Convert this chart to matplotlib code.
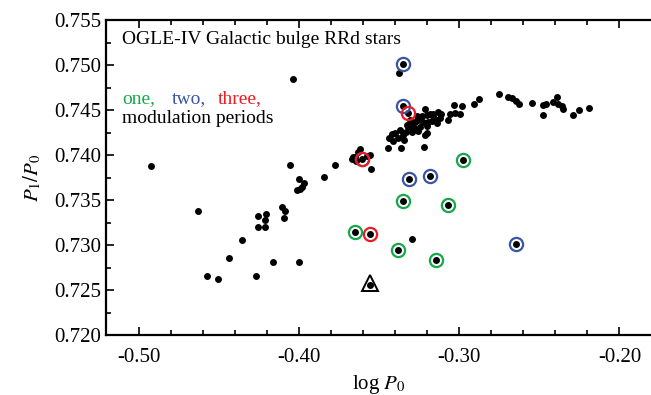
import numpy as np
import matplotlib
matplotlib.use('Agg')
import matplotlib.pyplot as plt
from matplotlib.ticker import MultipleLocator

plt.rcParams['font.family'] = ['Liberation Serif', 'DejaVu Serif']
plt.rcParams['mathtext.fontset'] = 'stix'

# all RRd stars (log P0, P1/P0)
logp_all = [-0.4924, -0.4629, -0.4571, -0.4502, -0.4435, -0.4356, -0.4265, -0.4252,
            -0.4206, -0.4211, -0.4254, -0.4212, -0.4159, -0.4105, -0.4084, -0.4095,
            -0.4057, -0.4036, -0.4002, -0.3966, -0.3980, -0.4013, -0.3993, -0.3997,
            -0.3840, -0.3774, -0.3551, -0.3292,
            -0.3618, -0.3660, -0.3556, -0.3670, -0.3651, -0.3576, -0.3605, -0.3643, -0.3630,
            -0.3376, -0.3353, -0.3350, -0.3318, -0.3213,
            -0.3445, -0.3364, -0.3217, -0.3420, -0.3400, -0.3369, -0.3348, -0.3331,
            -0.3317, -0.3296, -0.3275, -0.3254, -0.3233, -0.3202, -0.3181, -0.3160,
            -0.3139, -0.3129, -0.3284, -0.3305, -0.3243, -0.3223, -0.3264, -0.3327,
            -0.3212, -0.3202, -0.3381, -0.3294, -0.3257, -0.3194, -0.3160, -0.3139,
            -0.3119, -0.3412, -0.3438, -0.3341, -0.3200, -0.3169, -0.3113,
            -0.3067, -0.3056, -0.3030, -0.3025, -0.2994, -0.2980, -0.2905, -0.2874,
            -0.2753, -0.2693, -0.2672, -0.2645, -0.2624, -0.2547, -0.2474, -0.2457,
            -0.2474, -0.2416, -0.2391, -0.2381, -0.2360, -0.2350, -0.2291, -0.2252,
            -0.2188,
            -0.2977, -0.3353, -0.3071, -0.3647, -0.3384, -0.3147,
            -0.3310, -0.3184, -0.2646, -0.3554]
ratio_all = [0.7388, 0.7338, 0.7266, 0.7262, 0.7286, 0.7306, 0.7266, 0.7332,
             0.7334, 0.7328, 0.7320, 0.7320, 0.7281, 0.7342, 0.7338, 0.7330,
             0.7389, 0.7484, 0.7373, 0.7369, 0.7365, 0.7361, 0.7362, 0.7281,
             0.7376, 0.7389, 0.7384, 0.7307,
             0.7407, 0.7398, 0.7400, 0.7396, 0.7398, 0.7399, 0.7396, 0.7393, 0.7403,
             0.7491, 0.7501, 0.7454, 0.7447, 0.7451,
             0.7408, 0.7408, 0.7409, 0.7423, 0.7424, 0.7428, 0.7422, 0.7426,
             0.7431, 0.7435, 0.7437, 0.7439, 0.7443, 0.7444, 0.7446, 0.7443,
             0.7439, 0.7448, 0.7430, 0.7439, 0.7431, 0.7437, 0.7443, 0.7433,
             0.7422, 0.7424, 0.7419, 0.7426, 0.7427, 0.7437, 0.7446, 0.7436,
             0.7441, 0.7416, 0.7419, 0.7417, 0.7432, 0.7438, 0.7446,
             0.7439, 0.7446, 0.7456, 0.7447, 0.7446, 0.7454, 0.7457, 0.7462,
             0.7468, 0.7465, 0.7463, 0.7460, 0.7457, 0.7458, 0.7456, 0.7457,
             0.7444, 0.7459, 0.7464, 0.7457, 0.7454, 0.7451, 0.7444, 0.7450,
             0.7452,
             0.7394, 0.7349, 0.7344, 0.7314, 0.7294, 0.7283,
             0.7373, 0.7377, 0.7301, 0.7312]

# stars with one modulation period (green)
logp_one = [-0.2977, -0.3353, -0.3071, -0.3647, -0.3384, -0.3147]
ratio_one = [0.7394, 0.7349, 0.7344, 0.7314, 0.7294, 0.7283]
# two modulation periods (blue)
logp_two = [-0.3353, -0.3350, -0.3605, -0.3310, -0.3184, -0.2646]
ratio_two = [0.7501, 0.7454, 0.7396, 0.7373, 0.7377, 0.7301]
# three modulation periods (red)
logp_three = [-0.3318, -0.3605, -0.3554]
ratio_three = [0.7447, 0.7396, 0.7312]
# peculiar star (triangle)
logp_tri = [-0.3553]
ratio_tri = [0.7256]

green = '#16a84a'
blue = '#3a55a5'
red = '#ec1c24'

fig = plt.figure(figsize=(6.51, 3.95), dpi=100)
ax = fig.add_axes([106/651, 60/395, 545/651, 315/395])

ax.plot(logp_all, ratio_all, 'o', color='black', ms=5, mew=0, zorder=3)
ax.plot(logp_tri, ratio_tri, 'o', color='black', ms=5, mew=0, zorder=3)
ax.plot(logp_one, ratio_one, 'o', mfc='none', mec=green, ms=9.5, mew=1.6, zorder=4)
ax.plot(logp_two, ratio_two, 'o', mfc='none', mec=blue, ms=9.5, mew=1.6, zorder=4)
ax.plot(logp_three, ratio_three, 'o', mfc='none', mec=red, ms=9.5, mew=1.6, zorder=5)
ax.plot(logp_tri, [r + 0.0002 for r in ratio_tri], '^', mfc='none', mec='black', ms=11, mew=1.4, zorder=4)

ax.set_xlim(-0.5203, -0.1803)
ax.set_ylim(0.720, 0.755)
ax.xaxis.set_major_locator(MultipleLocator(0.1))
ax.xaxis.set_minor_locator(MultipleLocator(0.02))
ax.yaxis.set_major_locator(MultipleLocator(0.005))
ax.yaxis.set_minor_locator(MultipleLocator(0.0025))
ax.set_xticks([-0.5, -0.4, -0.3, -0.2])
ax.set_xticklabels(['-0.50', '-0.40', '-0.30', '-0.20'])
ax.set_yticks([0.720, 0.725, 0.730, 0.735, 0.740, 0.745, 0.750, 0.755])
ax.set_yticklabels(['%.3f' % v for v in ax.get_yticks()])

ax.spines['right'].set_visible(False)
for s in ['left', 'bottom', 'top']:
    ax.spines[s].set_linewidth(1.6)
ax.tick_params(which='both', direction='in', top=True, right=False, labelsize=15, width=1.2)
ax.tick_params(which='major', length=6)
ax.tick_params(which='minor', length=3.5)
ax.tick_params(axis='x', pad=9)

ax.set_xlabel('log $P_0$', fontsize=15, labelpad=5)
ax.set_ylabel('$P_1/P_0$', fontsize=15, labelpad=8)

ax.text(0.029, 0.937, 'OGLE-IV Galactic bulge RRd stars', transform=ax.transAxes,
        fontsize=14, va='center', ha='left')
ax.text(0.029, 0.752, 'one,', color=green, transform=ax.transAxes, fontsize=14, va='center')
ax.text(0.121, 0.752, 'two,', color=blue, transform=ax.transAxes, fontsize=14, va='center')
ax.text(0.2055, 0.752, 'three,', color=red, transform=ax.transAxes, fontsize=14, va='center')
ax.text(0.029, 0.686, 'modulation periods', transform=ax.transAxes, fontsize=14, va='center')

fig.savefig('out.png', dpi=100)
